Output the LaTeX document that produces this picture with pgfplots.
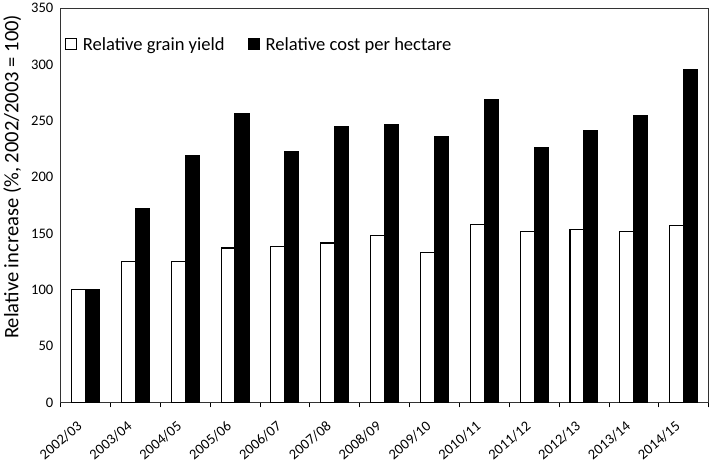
\documentclass[border=0pt]{standalone}
\usepackage{pgfplots}
\pgfplotsset{compat=1.18}
\usepackage{fontspec}
\setmainfont{Carlito}
\begin{document}
\begin{tikzpicture}
\begin{axis}[
  scale only axis, width=646pt, height=393pt,
  xmin=-0.5, xmax=12.5, ymin=0, ymax=350,
  ytick={0,50,...,350},
  xtick={0,...,12},
  xticklabels={2002/03,2003/04,2004/05,2005/06,2006/07,2007/08,2008/09,2009/10,2010/11,2011/12,2012/13,2013/14,2014/15},
  minor xtick={-0.5,0.5,...,12.5},
  major x tick style={draw=none},
  minor x tick style={black, line width=0.8pt},
  minor tick length=5pt,
  major y tick style={draw=none},
  tick align=outside,
  xtick pos=bottom, ytick pos=left,
  axis line style={black!80, line width=0.8pt},
  /pgf/number format/assume math mode=true,
  yticklabel style={font=\fontsize{14.5}{16}\selectfont, xshift=0.5pt},
  xticklabel style={font=\fontsize{14.5}{16}\selectfont, xshift=-9pt, yshift=-12pt, rotate=40, anchor=north east, inner sep=1pt},
  ylabel={Relative increase (\%, 2002/2003 = 100)},
  ylabel shift=3pt,
  ylabel style={font=\fontsize{20.5}{22}\selectfont, at={(ticklabel cs:0.572)}},
  legend columns=2,
  legend style={at={(0,1)}, anchor=north west, draw=none, fill=none, xshift=1pt, yshift=-25pt,
    font=\fontsize{18.5}{20}\selectfont,
    /tikz/every odd column/.append style={column sep=4pt},
    /tikz/every even column/.append style={column sep=21pt}},
  legend image code/.code={\draw[#1, line width=1pt] (0pt,-4.5pt) rectangle (11pt,6.5pt);},
]
\addplot[ybar, bar width=0.28, bar shift=-0.14, fill=white, draw=black, line width=1.1pt]
  coordinates {(0,100) (1,125) (2,125) (3,137) (4,138.5) (5,141.5) (6,148) (7,133) (8,157.5) (9,152) (10,153.5) (11,152) (12,157)};
\addlegendentry{Relative grain yield}
\addplot[ybar, bar width=0.28, bar shift=0.14, fill=black, draw=black, line width=1.1pt]
  coordinates {(0,100) (1,172) (2,219) (3,256) (4,223) (5,245) (6,246.5) (7,236) (8,269) (9,226) (10,241) (11,255) (12,295.5)};
\addlegendentry{Relative cost per hectare}
\end{axis}
\end{tikzpicture}
\end{document}
